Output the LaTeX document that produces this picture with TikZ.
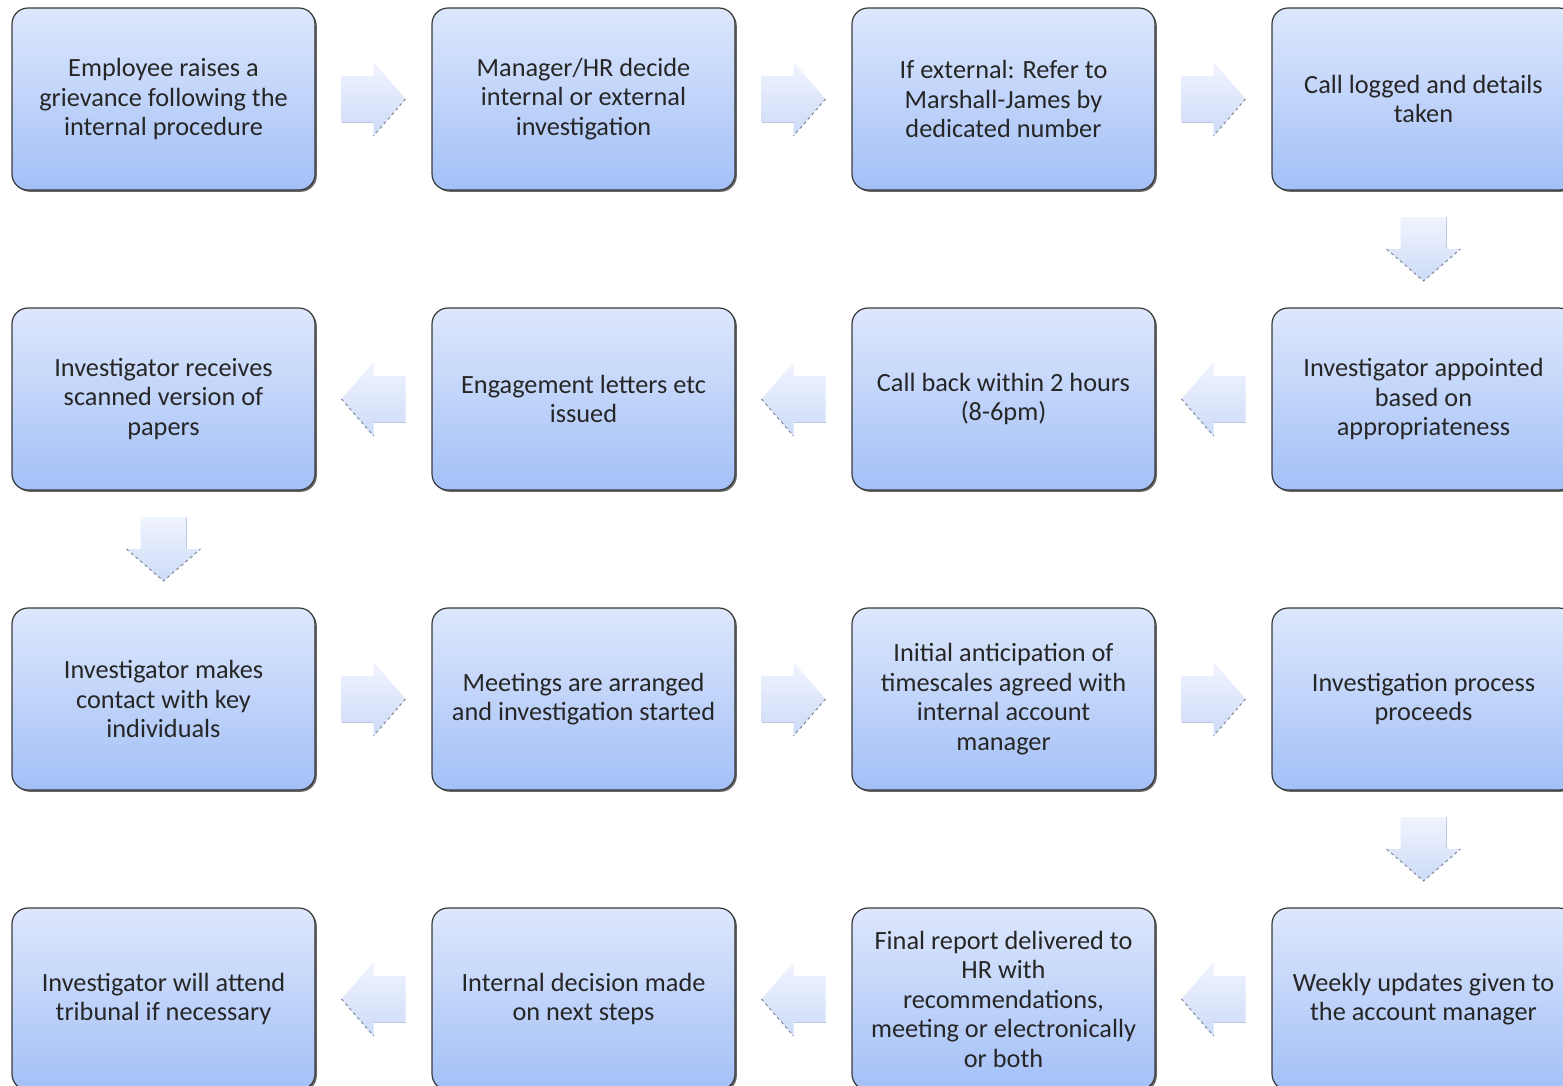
\documentclass[tikz,border=0pt]{standalone}
\usepackage{fontspec}
\setmainfont{Carlito}
\usetikzlibrary{shadows,calc}
\definecolor{bxtop}{HTML}{DDE7FC}
\definecolor{bxbot}{HTML}{A3C0F7}
\definecolor{bxline}{HTML}{3A3A3A}
\definecolor{txt}{HTML}{262626}
\definecolor{artop}{HTML}{F0F4FE}
\definecolor{arbot}{HTML}{CDDBF8}
\definecolor{arshd}{HTML}{7F8898}
\tikzset{
  x=1pt,y=-1pt,
  stepbox/.style={draw=bxline, line width=1.2pt, rounded corners=16pt,
    top color=bxtop, bottom color=bxbot,
    minimum width=303pt, minimum height=182pt, inner sep=0pt,
    align=center, text=txt, font=\fontsize{26.3}{29.5}\selectfont,
    drop shadow={shadow xshift=1.8pt, shadow yshift=-1.8pt, opacity=0.75, fill=black!80}},
  arrfill/.style={top color=artop, bottom color=arbot, draw=none},
  arrshd/.style={draw=arshd, line width=1pt, dash pattern=on 3pt off 3pt},
  rarr/.pic={
    \path[arrfill] (-32,-23) -- (0,-23) -- (0,-37) -- (32,0) -- (0,37) -- (0,23) -- (-32,23) -- cycle;
    \draw[arrshd] (32,0) -- (0,37);
    \draw[draw=arbot!80!gray, line width=0.8pt] (0,23) -- (-32,23);
  },
  larr/.pic={
    \path[arrfill] (32,-23) -- (0,-23) -- (0,-37) -- (-32,0) -- (0,37) -- (0,23) -- (32,23) -- cycle;
    \draw[arrshd] (-32,0) -- (0,37);
    \draw[draw=arbot!80!gray, line width=0.8pt] (0,23) -- (32,23);
  },
  darr/.pic={
    \path[arrfill] (-23,-32) -- (23,-32) -- (23,0) -- (37,0) -- (0,32) -- (-37,0) -- (-23,0) -- cycle;
    \draw[arrshd] (-37,0) -- (0,32) -- (37,0);
    \draw[draw=arbot!80!gray, line width=0.8pt] (23,-32) -- (23,0);
  }
}
\begin{document}
\begin{tikzpicture}
\useasboundingbox (0,0) rectangle (1563,1085);
\clip (0,0) rectangle (1563,1085);
% row 1
\node[stepbox] (b1) at (163.5,99) {Employee raises a\\grievance following the\\internal procedure};
\node[stepbox] (b2) at (583.5,99) {Manager/HR decide\\internal  or external\\investigation};
\node[stepbox] (b3) at (1003.5,99) {If external: Refer to\\Marshall-James by\\dedicated number};
\node[stepbox] (b4) at (1423.5,99) {Call logged and details\\taken};
% row 2
\node[stepbox] (b5) at (1423.5,399) {Investigator appointed\\based on\\appropriateness};
\node[stepbox] (b6) at (1003.5,399) {Call back within 2 hours\\(8-6pm)};
\node[stepbox] (b7) at (583.5,399) {Engagement letters etc\\issued};
\node[stepbox] (b8) at (163.5,399) {Investigator receives\\scanned version of\\papers};
% row 3
\node[stepbox] (b9) at (163.5,699) {Investigator makes\\contact with key\\individuals};
\node[stepbox] (b10) at (583.5,699) {Meetings are arranged\\and investigation started};
\node[stepbox] (b11) at (1003.5,699) {Initial anticipation of\\timescales agreed with\\internal account\\manager};
\node[stepbox] (b12) at (1423.5,699) {Investigation process\\proceeds};
% row 4
\node[stepbox] (b13) at (1423.5,999) {Weekly updates given to\\the account manager};
\node[stepbox] (b14) at (1003.5,999) {Final report delivered to\\HR with\\recommendations,\\meeting or electronically\\or both};
\node[stepbox] (b15) at (583.5,999) {Internal decision made\\on next steps};
\node[stepbox] (b16) at (163.5,999) {Investigator will attend\\tribunal if necessary};
% connectors (block arrows)
\path ($(b1.east)!0.5!(b2.west)$) pic {rarr};
\path ($(b2.east)!0.5!(b3.west)$) pic {rarr};
\path ($(b3.east)!0.5!(b4.west)$) pic {rarr};
\path ($(b4.south)!0.5!(b5.north)$) pic {darr};
\path ($(b5.west)!0.5!(b6.east)$) pic {larr};
\path ($(b6.west)!0.5!(b7.east)$) pic {larr};
\path ($(b7.west)!0.5!(b8.east)$) pic {larr};
\path ($(b8.south)!0.5!(b9.north)$) pic {darr};
\path ($(b9.east)!0.5!(b10.west)$) pic {rarr};
\path ($(b10.east)!0.5!(b11.west)$) pic {rarr};
\path ($(b11.east)!0.5!(b12.west)$) pic {rarr};
\path ($(b12.south)!0.5!(b13.north)$) pic {darr};
\path ($(b13.west)!0.5!(b14.east)$) pic {larr};
\path ($(b14.west)!0.5!(b15.east)$) pic {larr};
\path ($(b15.west)!0.5!(b16.east)$) pic {larr};
\end{tikzpicture}
\end{document}
